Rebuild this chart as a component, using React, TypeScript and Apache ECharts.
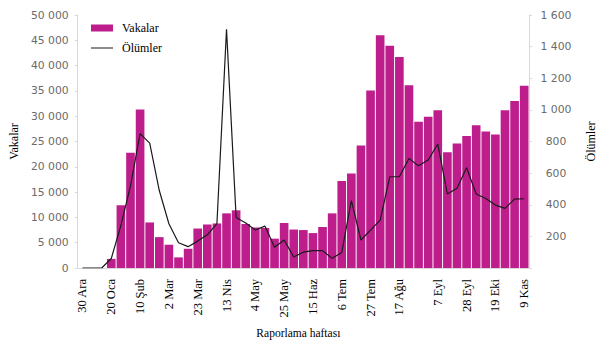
import React, { useEffect, useRef } from "react";
import * as echarts from "echarts";

const weeks = [
  "30 Ara", "6 Oca", "13 Oca", "20 Oca", "27 Oca", "3 Şub", "10 Şub", "17 Şub", "24 Şub",
  "2 Mar", "9 Mar", "16 Mar", "23 Mar", "30 Mar", "6 Nis", "13 Nis", "20 Nis", "27 Nis",
  "4 May", "11 May", "18 May", "25 May", "1 Haz", "8 Haz", "15 Haz", "22 Haz", "29 Haz",
  "6 Tem", "13 Tem", "20 Tem", "27 Tem", "3 Ağu", "10 Ağu", "17 Ağu", "24 Ağu", "31 Ağu",
  "7 Eyl", "14 Eyl", "21 Eyl", "28 Eyl", "5 Eki", "12 Eki", "19 Eki", "26 Eki", "2 Kas",
  "9 Kas", "16 Kas",
];

const cases = [
  0, 0, 0, 1800, 12400, 22800, 31300, 9000, 6100, 4600, 2100, 3800,
  7800, 8600, 8800, 10800, 11400, 8700, 8000, 7900, 5800, 8900, 7600, 7500,
  6900, 8100, 10800, 17200, 18700, 24200, 35100, 46000, 43900, 41700, 36100, 28900,
  29900, 31200, 22900, 24600, 26100, 28200, 27000, 26400, 31200, 33000, 36000,
];

const deaths = [
  0, 0, 0, 60, 270, 520, 850, 790, 490, 280, 160, 135,
  170, 210, 280, 1510, 320, 285, 240, 265, 131, 177, 70, 100,
  110, 110, 61, 98, 426, 177, 240, 303, 577, 577, 693, 646,
  683, 784, 468, 504, 634, 468, 440, 398, 377, 436, 438,
];

const tickLabels = [
  "30 Ara", "20 Oca", "10 Şub", "2 Mar", "23 Mar", "13 Nis", "4 May", "25 May",
  "15 Haz", "6 Tem", "27 Tem", "17 Ağu", "7 Eyl", "28 Eyl", "19 Eki", "9 Kas",
];
const tickPositions = [0, 3, 6, 9, 12, 15, 18, 21, 24, 27, 30, 33, 37, 40, 43, 46];

const SERIF = "'Liberation Serif', 'Times New Roman', serif";
const SANS = "'DejaVu Sans', Verdana, sans-serif";

const fmt = (v: number) => String(v).replace(/\B(?=(\d{3})+(?!\d))/g, " ");

// thin horizontal line centred in a 22x7 box (tiny corner dots fix the bounding box)
const LINE_ICON =
  "path://M0,0h0.01v0.01h-0.01Z M0,2.9H22V4.1H0Z M21.99,6.99h0.01v0.01h-0.01Z";

export default function App() {
  const ref = useRef<HTMLDivElement>(null);
  useEffect(() => {
    if (!ref.current) return;
    const chart = echarts.init(ref.current, undefined, { renderer: "svg" });
    chart.setOption({
      animation: false,
      backgroundColor: "#ffffff",
      grid: { left: 74, right: 76, top: 15, bottom: 86 },
      legend: {
        orient: "vertical",
        left: 86,
        top: 17,
        itemWidth: 22,
        itemHeight: 7,
        itemGap: 8,
        textStyle: { fontFamily: SERIF, fontSize: 12, color: "#000", padding: [0, 0, 0, 4] },
        data: [
          { name: "Vakalar", icon: "rect" },
          { name: "Ölümler", icon: LINE_ICON, itemStyle: { color: "#1a1a1a" } },
        ],
      },
      xAxis: {
        type: "category",
        data: weeks,
        name: "Raporlama haftası",
        nameLocation: "middle",
        nameGap: 59,
        nameTextStyle: { fontFamily: SERIF, fontSize: 11.5, color: "#000", padding: [0, 10, 0, 0] },
        axisLine: { lineStyle: { color: "#d9d9d9" } },
        axisTick: { show: false },
        axisLabel: {
          rotate: 90,
          margin: 11,
          fontFamily: SERIF,
          fontSize: 12.5,
          color: "#000",
          interval: (index: number) => tickPositions.includes(index),
          formatter: (_v: string, index: number) => {
            const k = tickPositions.indexOf(index);
            return k >= 0 ? tickLabels[k] : "";
          },
        },
      },
      yAxis: [
        {
          type: "value",
          min: 0,
          max: 50000,
          interval: 5000,
          name: "Vakalar",
          nameLocation: "middle",
          nameRotate: 90,
          nameGap: 52,
          nameTextStyle: { fontFamily: SERIF, fontSize: 12, color: "#000" },
          axisLine: { show: true, lineStyle: { color: "#d9d9d9" } },
          axisTick: { show: true, length: 3, lineStyle: { color: "#d9d9d9" } },
          splitLine: { show: false },
          axisLabel: {
            margin: 9,
            fontFamily: SANS,
            fontSize: 10.8,
            color: "#6b6b6b",
            formatter: (v: number) => fmt(v),
          },
        },
        {
          type: "value",
          min: 0,
          max: 1600,
          interval: 200,
          position: "right",
          name: "Ölümler",
          nameLocation: "middle",
          nameRotate: 90,
          nameGap: 56,
          nameTextStyle: { fontFamily: SERIF, fontSize: 12, color: "#000" },
          axisLine: { show: true, lineStyle: { color: "#d9d9d9" } },
          axisTick: { show: true, length: 3, lineStyle: { color: "#d9d9d9" } },
          splitLine: { show: false },
          axisLabel: {
            margin: 27,
            align: "center",
            fontFamily: SANS,
            fontSize: 10.8,
            color: "#6b6b6b",
            formatter: (v: number) => (v === 0 ? "" : fmt(v)),
          },
        },
      ],
      series: [
        {
          name: "Vakalar",
          type: "bar",
          data: cases,
          barCategoryGap: "10%",
          itemStyle: { color: "#BD1E8C" },
        },
        {
          name: "Ölümler",
          type: "line",
          yAxisIndex: 1,
          data: deaths,
          symbol: "none",
          lineStyle: { color: "#1a1a1a", width: 1.2 },
          itemStyle: { color: "#1a1a1a" },
          z: 5,
        },
      ],
    });
    return () => chart.dispose();
  }, []);
  return (
    <div
      ref={ref}
      style={{ position: "fixed", left: 0, top: 0, width: 605, height: 354, background: "#fff" }}
    />
  );
}
